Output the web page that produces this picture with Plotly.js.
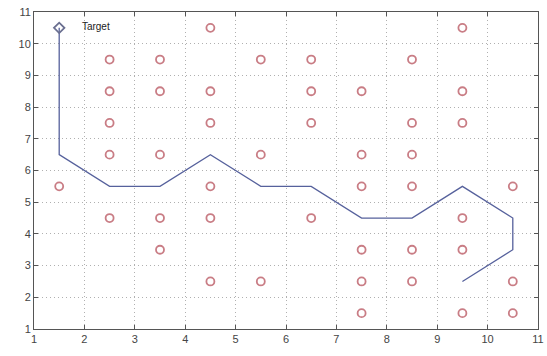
<!DOCTYPE html>
<html>
<head>
<meta charset="utf-8">
<script src="https://cdn.plot.ly/plotly-3.0.1.min.js"></script>
<style>html,body{margin:0;padding:0;background:#fff;}#chart{width:547px;height:356px;}</style>
</head>
<body>
<div id="chart"></div>
<script>
// Obstacles (red circles)
const obstacleX = [4.5, 9.5,
  2.5, 3.5, 5.5, 6.5, 8.5,
  2.5, 3.5, 4.5, 6.5, 7.5, 9.5,
  2.5, 4.5, 6.5, 8.5, 9.5,
  2.5, 3.5, 5.5, 7.5, 8.5,
  1.5, 4.5, 7.5, 8.5, 10.5,
  2.5, 3.5, 4.5, 6.5, 9.5,
  3.5, 7.5, 8.5, 9.5,
  4.5, 5.5, 7.5, 8.5, 10.5,
  7.5, 9.5, 10.5];
const obstacleY = [10.5, 10.5,
  9.5, 9.5, 9.5, 9.5, 9.5,
  8.5, 8.5, 8.5, 8.5, 8.5, 8.5,
  7.5, 7.5, 7.5, 7.5, 7.5,
  6.5, 6.5, 6.5, 6.5, 6.5,
  5.5, 5.5, 5.5, 5.5, 5.5,
  4.5, 4.5, 4.5, 4.5, 4.5,
  3.5, 3.5, 3.5, 3.5,
  2.5, 2.5, 2.5, 2.5, 2.5,
  1.5, 1.5, 1.5];
// Robot path
const pathX = [9.5, 10.5, 10.5, 9.5, 8.5, 7.5, 6.5, 5.5, 4.5, 3.5, 2.5, 1.5, 1.5];
const pathY = [2.5, 3.5, 4.5, 5.5, 4.5, 4.5, 5.5, 5.5, 6.5, 5.5, 5.5, 6.5, 10.5];
// Target
const targetX = [1.5];
const targetY = [10.5];
const targetLabel = ["Target"];
const tickVals = [1, 2, 3, 4, 5, 6, 7, 8, 9, 10, 11];

const axisCommon = {
  range: [1, 11], tickvals: tickVals, ticks: 'inside', ticklen: 4,
  tickcolor: '#555', showline: true, mirror: 'ticks', linecolor: '#555', linewidth: 1,
  showgrid: true, gridcolor: '#b0b0b0', griddash: '1px,3px', gridwidth: 1,
  zeroline: false, tickfont: {family: 'Liberation Sans, Arial, sans-serif', size: 11, color: '#444'}
};

const data = [
  {x: pathX, y: pathY, mode: 'lines', type: 'scatter',
   line: {color: '#56619c', width: 1.3}, hoverinfo: 'skip'},
  {x: obstacleX, y: obstacleY, mode: 'markers', type: 'scatter',
   marker: {symbol: 'circle-open', size: 8, color: '#c97d85', line: {width: 1.8}}},
  {x: targetX, y: targetY, mode: 'markers', type: 'scatter',
   marker: {symbol: 'diamond-open', size: 8, color: '#6a6f90', line: {width: 1.8}}},
  {x: [1.95], y: targetY, mode: 'text', type: 'scatter', text: targetLabel,
   textposition: 'middle right', textfont: {family: 'Liberation Sans, Arial, sans-serif', size: 10, color: '#222'}}
];

const layout = {
  width: 547, height: 356,
  margin: {l: 34, r: 9, t: 12, b: 27},
  paper_bgcolor: '#fff', plot_bgcolor: '#fff',
  showlegend: false,
  xaxis: Object.assign({}, axisCommon),
  yaxis: Object.assign({}, axisCommon)
};

Plotly.newPlot('chart', data, layout, {staticPlot: true, displayModeBar: false});
</script>
</body>
</html>
